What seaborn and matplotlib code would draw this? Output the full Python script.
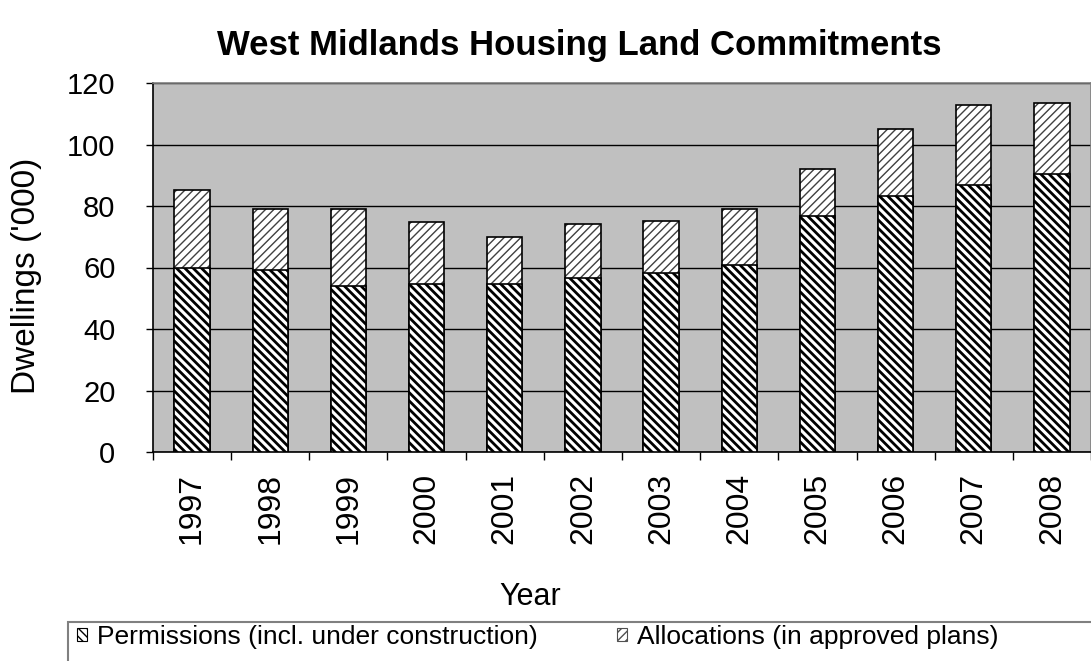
import matplotlib
matplotlib.use("Agg")
import matplotlib.pyplot as plt
from matplotlib.patches import Patch, Rectangle
import numpy as np
import pandas as pd
import seaborn as sns

years = ["1997", "1998", "1999", "2000", "2001", "2002",
         "2003", "2004", "2005", "2006", "2007", "2008"]
permissions = [59.9, 59.2, 54.0, 54.7, 54.5, 56.5, 58.3, 60.9, 76.6, 83.4, 86.8, 90.4]
allocations = [25.3, 19.8, 25.0, 20.1, 15.4, 17.6, 16.7, 18.0, 15.4, 21.6, 26.1, 23.2]
yticks = [0, 20, 40, 60, 80, 100, 120]

perm_label = "Permissions (incl. under construction)"
alloc_label = "Allocations (in approved plans)"

df = pd.DataFrame({"Year": years,
                   "Permissions": permissions,
                   "Allocations": allocations})
df["Total"] = df["Permissions"] + df["Allocations"]

sns.set_theme(style="white")
plt.rcParams["font.family"] = ["Liberation Sans", "DejaVu Sans"]
plt.rcParams.update({"text.color": "black", "axes.labelcolor": "black",
                     "xtick.color": "black", "ytick.color": "black"})

fig = plt.figure(figsize=(10.91, 6.61), dpi=100)
ax = fig.add_axes([153 / 1091, 1 - 452 / 661, 1 - 153 / 1091, (452 - 83) / 661])
ax.set_facecolor("#C0C0C0")

BAR_W = 0.45
ALLOC_HATCH_LW = 1.0
PERM_HATCH_LW = 2.0


def set_hatch_lw(container, lw):
    for p in container.patches:
        if hasattr(p, "set_hatch_linewidth"):
            p.set_hatch_linewidth(lw)


# allocations: full stacked height, grey hatching, then black outline
with plt.rc_context({"hatch.linewidth": ALLOC_HATCH_LW, "hatch.color": "#404040"}):
    sns.barplot(data=df, x="Year", y="Total", ax=ax, color="white",
                width=BAR_W, hatch="////", edgecolor="#404040", linewidth=0,
                zorder=3)
set_hatch_lw(ax.containers[-1], ALLOC_HATCH_LW)
sns.barplot(data=df, x="Year", y="Total", ax=ax, fill=False,
            width=BAR_W, edgecolor="black", linewidth=1.2, zorder=4)

# permissions: lower segment, dense black hatching
with plt.rc_context({"hatch.linewidth": PERM_HATCH_LW, "hatch.color": "black"}):
    sns.barplot(data=df, x="Year", y="Permissions", ax=ax, color="white",
                width=BAR_W, hatch="\\\\\\\\", edgecolor="black", linewidth=1.2,
                zorder=5)
set_hatch_lw(ax.containers[-1], PERM_HATCH_LW)

ax.set_xlim(-0.5, len(years) - 0.5)
ax.set_ylim(0, 120)
ax.set_yticks(yticks)
ax.yaxis.grid(True, color="black", linewidth=1.0, zorder=1)
ax.set_axisbelow(True)

# category-boundary tick marks on the x axis
ax.set_xticks(np.arange(len(years)))
ax.set_xticklabels(years, rotation=90, fontsize=23)
ax.set_xticks(np.arange(len(years) + 1) - 0.5, minor=True)
ax.tick_params(axis="x", which="major", length=0, pad=15)
ax.tick_params(axis="x", which="minor", length=6, width=1, color="black",
               direction="out", bottom=True)
ax.tick_params(axis="y", length=5, width=1, color="black", direction="out",
               left=True, labelsize=21, pad=22)

for side in ["top", "right"]:
    ax.spines[side].set_color("#808080")
    ax.spines[side].set_linewidth(1.2)
for side in ["left", "bottom"]:
    ax.spines[side].set_color("black")
    ax.spines[side].set_linewidth(1.2)

ax.set_xlabel("Year", fontsize=22)
ax.xaxis.set_label_coords((530 - 153) / 938, (452 - 597) / 369)
ax.set_ylabel("Dwellings ('000)", fontsize=24)
ax.yaxis.set_label_coords((27 - 153) / 938, (452 - 276) / 369)
ax.xaxis.label.set_va("center")
ax.yaxis.label.set_va("center")

fig.text(579 / 1091, 1 - 55 / 661, "West Midlands Housing Land Commitments",
         ha="center", va="baseline", fontsize=25, fontweight="bold")

# legend box below the plot
fig.patches.append(Rectangle((68 / 1091, -0.05), 1.1, (661 - 622) / 661 + 0.05,
                             transform=fig.transFigure, fill=False,
                             edgecolor="#808080", linewidth=1.5))
handles = [Patch(facecolor="white", edgecolor="black", hatch="\\\\\\\\",
                 linewidth=0.8, label=perm_label),
           Patch(facecolor="white", edgecolor="#505050", hatch="////",
                 linewidth=0.8, label=alloc_label)]
leg = fig.legend(handles=handles, loc="center left", ncol=2, frameon=False,
                 bbox_to_anchor=(77 / 1091, 1 - 637 / 661), fontsize=19,
                 handlelength=0.38, handleheight=0.38, handletextpad=0.38,
                 columnspacing=3.0, borderaxespad=0, borderpad=0)

fig.savefig("out.png", dpi=100)
